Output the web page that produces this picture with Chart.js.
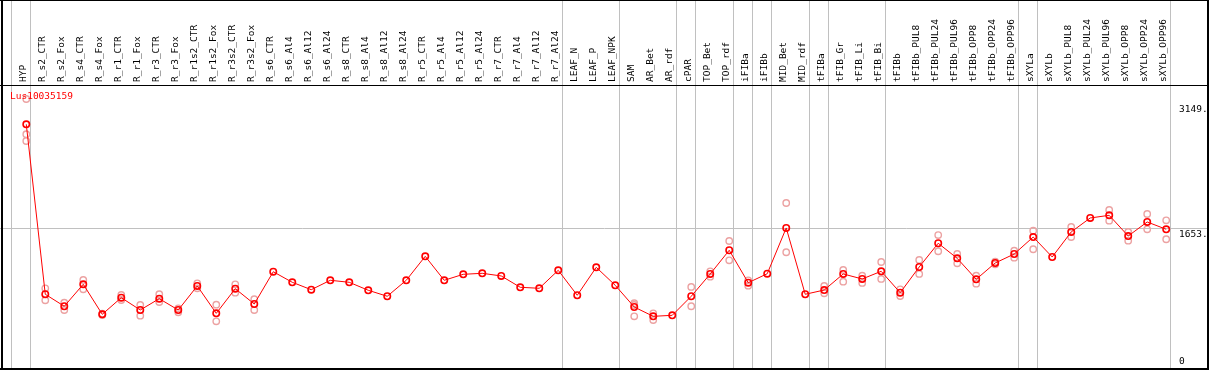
<!DOCTYPE html>
<html>
<head>
<meta charset="utf-8">
<script src="https://cdn.jsdelivr.net/npm/chart.js@4.4.1/dist/chart.umd.min.js"></script>
<style>
  html, body { margin: 0; padding: 0; background: #fff; }
</style>
</head>
<body>
<canvas id="expr" width="1209" height="370"></canvas>
<script>
// gene shown in the plot
const geneName = 'Lus10035159';

const samples = [
    'HYP',
    'R_s2_CTR', 'R_s2_Fox', 'R_s4_CTR', 'R_s4_Fox', 'R_r1_CTR', 'R_r1_Fox', 'R_r3_CTR', 'R_r3_Fox',
    'R_r1s2_CTR', 'R_r1s2_Fox', 'R_r3s2_CTR', 'R_r3s2_Fox',
    'R_s6_CTR', 'R_s6_Al4', 'R_s6_Al12', 'R_s6_Al24', 'R_s8_CTR', 'R_s8_Al4', 'R_s8_Al12', 'R_s8_Al24',
    'R_r5_CTR', 'R_r5_Al4', 'R_r5_Al12', 'R_r5_Al24', 'R_r7_CTR', 'R_r7_Al4', 'R_r7_Al12', 'R_r7_Al24',
    'LEAF_N', 'LEAF_P', 'LEAF_NPK',
    'SAM', 'AR_Bet', 'AR_rdf',
    'cPAR', 'TOP_Bet', 'TOP_rdf',
    'iFIBa', 'iFIBb',
    'MID_Bet', 'MID_rdf',
    'tFIBa', 'tFIB_Gr', 'tFIB_Li', 'tFIB_Bi',
    'tFIBb', 'tFIBb_PUL8', 'tFIBb_PUL24', 'tFIBb_PUL96', 'tFIBb_OPP8', 'tFIBb_OPP24', 'tFIBb_OPP96',
    'sXYLa',
    'sXYLb', 'sXYLb_PUL8', 'sXYLb_PUL24', 'sXYLb_PUL96', 'sXYLb_OPP8', 'sXYLb_OPP24', 'sXYLb_OPP96'
];

// mean expression per sample (red line)
const meanValues = [
    2905, 862, 718, 982, 621, 821, 673, 809, 673, 962,
    633, 929, 745, 1133, 1006, 917, 1030, 1006, 910, 838,
    1030, 1318, 1030, 1102, 1114, 1082, 946, 934, 1150, 850,
    1186, 970, 709, 597, 609, 838, 1106, 1391, 1001, 1109,
    1659, 862, 913, 1106, 1046, 1138, 881, 1190, 1475, 1294,
    1042, 1238, 1346, 1550, 1310, 1611, 1779, 1811, 1562, 1731, 1643
];

// replicate values (pale circles), null where none is visible
const repHigh = [
    2785, 934, 761, 1034, 629, 853, 733, 862, 693, 994,
    737, 982, 802, null, null, null, null, null, null, null,
    null, null, null, null, null, null, null, null, null, null,
    null, null, 754, 633, null, 950, 1138, 1502, 1030, null,
    1959, null, 962, 1154, 1085, 1250, 922, 1274, 1574, 1346,
    1085, 1254, 1386, 1626, null, 1671, null, 1875, 1611, 1827, 1751
];
const repLow = [
    2704, 790, 673, 922, 613, 793, 605, 769, 645, 934,
    537, 881, 673, null, null, null, null, null, null, null,
    null, null, null, null, null, null, null, null, null, null,
    null, null, 597, 553, null, 718, 1073, 1270, 965, null,
    1367, null, 874, 1013, 998, 1046, 841, 1106, 1379, 1234,
    989, 1222, 1302, 1403, null, 1550, null, 1746, 1506, 1643, 1523
];
// extra replicates: [sample index, value]
const repExtra = [[0, 3209], [32, 733]];

// last sample index of each group (-1 = left edge)
const groupEnds = [-1, 0, 28, 31, 34, 35, 37, 38, 39, 41, 42, 45, 52, 53, 60];

const yTicks = [0, 1653, 3149];

const monoFont = '"DejaVu Sans Mono", "Liberation Mono", monospace';

function toPoints(values) {
    return values
        .map((v, i) => ({ x: i, y: v }))
        .filter(p => p.y !== null);
}

// grey separators, frame, y labels and gene name
const framePlugin = {
    id: 'frame',
    beforeDatasetsDraw(chart) {
        const { ctx, width, height, scales: { x, y } } = chart;
        ctx.save();
        ctx.strokeStyle = '#c0c0c0';
        ctx.lineWidth = 1;
        const yMid = Math.floor(y.getPixelForValue(yTicks[1])) + 0.5;
        ctx.beginPath();
        ctx.moveTo(0, yMid);
        ctx.lineTo(width, yMid);
        ctx.stroke();
        groupEnds.forEach(i => {
            const px = Math.round(x.getPixelForValue(i)) + 4.5;
            ctx.beginPath();
            ctx.moveTo(px, 0);
            ctx.lineTo(px, height);
            ctx.stroke();
        });
        ctx.restore();
    },
    afterDraw(chart) {
        const { ctx, width, height, chartArea, scales: { y } } = chart;
        ctx.save();
        ctx.font = '9.5px ' + monoFont;
        ctx.textBaseline = 'top';
        ctx.textAlign = 'left';
        ctx.fillStyle = '#000';
        yTicks.forEach(v => {
            const py = y.getPixelForValue(v);
            const top = Math.min(py + 1, chartArea.bottom - 9);
            ctx.fillText(v === 0 ? '0' : v + '.', chartArea.right + 9, top);
        });

        ctx.fillStyle = '#ff0000';
        ctx.textBaseline = 'middle';
        ctx.fillText(geneName, 10, 97);

        ctx.fillStyle = '#000';
        ctx.fillRect(0, 0, width, 1);
        ctx.fillRect(1, 0, 2, height);
        ctx.fillRect(0, height - 2, width, 2);
        ctx.fillRect(width - 2, 0, 2, height);
        ctx.fillRect(0, 85, width, 1);
        ctx.restore();
    }
};

const repColor = '#eca2a2';

new Chart(document.getElementById('expr'), {
    type: 'line',
    data: {
        datasets: [
            {
                label: geneName,
                data: toPoints(meanValues),
                borderColor: '#ff0000',
                borderWidth: 1,
                pointRadius: 3.2,
                pointBorderWidth: 1.6,
                pointBorderColor: '#ff0000',
                pointBackgroundColor: 'rgba(0,0,0,0)',
                tension: 0,
                order: 0
            },
            {
                label: 'rep1',
                data: toPoints(repHigh),
                showLine: false,
                pointRadius: 3.2,
                pointBorderWidth: 1.4,
                pointBorderColor: repColor,
                pointBackgroundColor: 'rgba(0,0,0,0)',
                order: 1
            },
            {
                label: 'rep2',
                data: toPoints(repLow),
                showLine: false,
                pointRadius: 3.2,
                pointBorderWidth: 1.4,
                pointBorderColor: repColor,
                pointBackgroundColor: 'rgba(0,0,0,0)',
                order: 1
            },
            {
                label: 'rep3',
                data: repExtra.map(r => ({ x: r[0], y: r[1] })),
                showLine: false,
                pointRadius: 3.2,
                pointBorderWidth: 1.4,
                pointBorderColor: repColor,
                pointBackgroundColor: 'rgba(0,0,0,0)',
                order: 1
            }
        ]
    },
    options: {
        responsive: false,
        animation: false,
        clip: false,
        layout: { autoPadding: false, padding: { left: 1, right: 39, top: 0, bottom: 4 } },
        plugins: {
            legend: { display: false },
            tooltip: { enabled: false }
        },
        scales: {
            x: {
                type: 'linear',
                position: 'top',
                min: -1.33,
                max: 60.2,
                afterBuildTicks: scale => {
                    scale.ticks = samples.map((s, i) => ({ value: i }));
                },
                afterFit: scale => {
                    scale.height = 86;
                    scale.paddingLeft = 0;
                    scale.paddingRight = 0;
                },
                grid: { display: false, drawTicks: false },
                border: { display: false },
                ticks: {
                    autoSkip: false,
                    minRotation: 90,
                    maxRotation: 90,
                    padding: 4,
                    labelOffset: 9,
                    color: '#000',
                    font: { family: monoFont, size: 9.5 },
                    callback: v => samples[v]
                }
            },
            y: {
                display: false,
                min: 0,
                max: 3365
            }
        }
    },
    plugins: [framePlugin]
});
</script>
</body>
</html>
